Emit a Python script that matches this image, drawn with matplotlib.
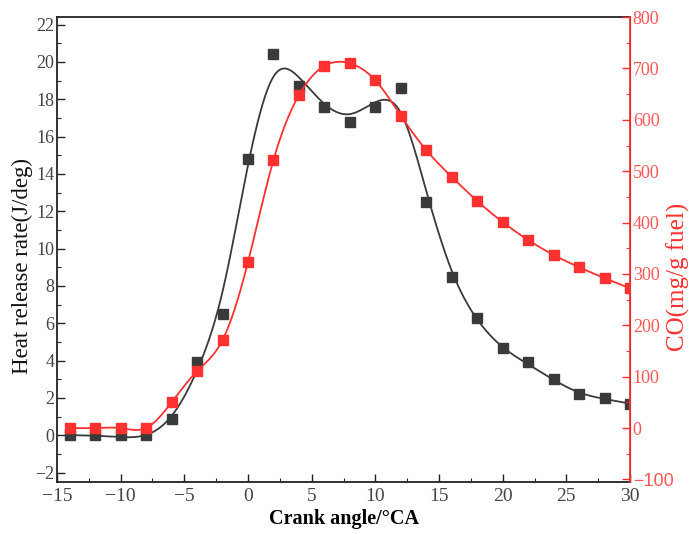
import numpy as np
import matplotlib
matplotlib.use("Agg")
import matplotlib.pyplot as plt
from matplotlib.ticker import MultipleLocator

crank = [-14, -12, -10, -8, -6, -4, -2, 0, 2, 4, 6, 8, 10, 12, 14, 16, 18, 20, 22, 24, 26, 28, 30]
hrr = [0, 0, 0, 0, 0.9, 3.9, 6.5, 14.8, 20.4, 18.7, 17.6, 16.8, 17.6, 18.6, 12.5, 8.5,
       6.3, 4.7, 3.9, 3.0, 2.2, 2.0, 1.7]
co = [0, 0, 0, 0, 50, 111, 171, 323, 522, 648, 705, 710, 677, 608, 541, 489,
      442, 401, 366, 337, 313, 292, 272]
left_ticks = list(range(-2, 23, 2))
right_ticks = list(range(-100, 801, 100))
x_ticks = list(range(-15, 31, 5))

def smooth_curve(x, y, lam, step=0.05):
    x = np.asarray(x, float); y = np.asarray(y, float)
    grid = np.arange(x.min(), x.max() + step / 2, step)
    n = len(grid)
    w = np.zeros(n); z = np.zeros(n)
    for xi, yi in zip(x, y):
        k = int(round((xi - grid[0]) / step))
        w[k] = 1.0; z[k] = yi
    D = np.diff(np.eye(n), 2, axis=0) / step**2
    A = np.diag(w) + lam * (D.T @ D) * step
    return grid, np.linalg.solve(A, w * z)

BLACK = "#3a3a3a"
RED = "#ff3030"
RED_TXT = "#ff5555"

plt.rcParams['font.family'] = ['Liberation Serif', 'DejaVu Serif']
fig = plt.figure(figsize=(6.89, 5.34), dpi=100)
ax = fig.add_axes([0.0827, 0.0974, 0.8317, 0.8706])
ax2 = ax.twinx()

gx, gy = smooth_curve(crank, hrr, 1.0)
ax.plot(gx, gy, color=BLACK, lw=1.3, zorder=2)
ax.plot(crank, hrr, 's', color=BLACK, ms=6.5, zorder=3)

rx, ry = smooth_curve(crank, co, 0.01)
ax2.plot(rx, ry, color=RED, lw=1.3, zorder=2)
ax2.plot(crank, co, 's', color=RED, ms=6.5, zorder=3)

ax.set_xlim(-15, 30)
ax.set_ylim(-2.5, 22.4)
ax2.set_ylim(-105, 800)

ax.set_xticks(x_ticks)
ax.set_xticklabels([str(t).replace('-', '\u2212') for t in x_ticks])
ax.xaxis.set_minor_locator(MultipleLocator(2.5))
ax.set_yticks(left_ticks)
ax.set_yticklabels([str(t).replace('-', '\u2212') for t in left_ticks])
ax.yaxis.set_minor_locator(MultipleLocator(1))
ax2.set_yticks(right_ticks)
rlabels = ax2.set_yticklabels([str(t).replace('-', '\u2212') for t in right_ticks])
rlabels[0].set_fontfamily('Liberation Sans')
ax2.yaxis.set_minor_locator(MultipleLocator(50))

ax.tick_params(axis='both', which='major', direction='in', length=6, width=1,
               colors='#222222', labelcolor='#444444')
ax.tick_params(axis='x', labelsize=14, pad=4)
ax.tick_params(axis='y', labelsize=13, pad=2)
ax.tick_params(axis='both', which='minor', direction='in', length=3, width=0.8, colors='#222222')
ax2.tick_params(axis='y', which='major', direction='in', length=6, width=1,
                labelsize=13, colors=RED, labelcolor=RED_TXT, pad=2)
ax2.tick_params(axis='y', which='minor', direction='in', length=3, width=0.8, colors=RED)

for s in ['left', 'bottom', 'top']:
    ax.spines[s].set_color('#222222')
    ax.spines[s].set_linewidth(1.3)
ax2.spines['right'].set_color(RED)
ax2.spines['right'].set_linewidth(1.3)
ax2.spines['left'].set_visible(False)
ax2.spines['top'].set_visible(False)
ax2.spines['bottom'].set_visible(False)

ax.set_xlabel('Crank angle/\u00b0CA', fontsize=14.5, fontweight='bold', labelpad=3)
fig.text(22 / 689, 1 - 266 / 534, 'Heat release rate(J/deg)', fontsize=16.5, rotation=90,
         ha='center', va='center', color='#111111')
fig.text(678 / 689, 1 - 277 / 534, 'CO(mg/g fuel)', fontsize=18, rotation=90,
         ha='center', va='center', color=RED)

fig.savefig('out.png', dpi=100)
